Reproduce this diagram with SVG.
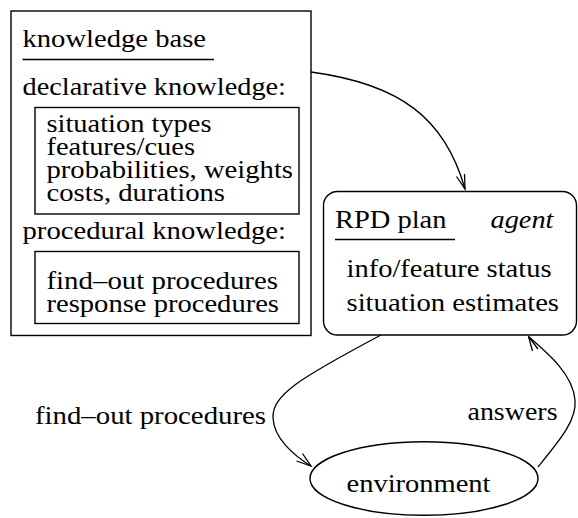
<svg xmlns="http://www.w3.org/2000/svg" width="578" height="518" viewBox="0 0 578 518">
  <rect width="578" height="518" fill="#fff"/>

  <!-- knowledge base -->
  <g id="knowledge-base">
    <g fill="#fff" stroke="#000" stroke-width="1.4">
      <rect x="11" y="11" width="300" height="324.5"/>
      <rect x="35" y="107.5" width="264" height="106.5"/>
      <rect x="35" y="251.5" width="264" height="72"/>
    </g>
    <line x1="22.5" y1="59.5" x2="214" y2="59.5" stroke="#000" stroke-width="1.3"/>
    <text font-family="Liberation Serif" font-size="25" x="22.5" y="46.5" textLength="183.5" lengthAdjust="spacingAndGlyphs">knowledge base</text>
    <text font-family="Liberation Serif" font-size="25" x="22.5" y="94.5" textLength="263.5" lengthAdjust="spacingAndGlyphs">declarative knowledge:</text>
    <text font-family="Liberation Serif" font-size="25" x="46.5" y="131.5" textLength="165" lengthAdjust="spacingAndGlyphs">situation types</text>
    <text font-family="Liberation Serif" font-size="25" x="46.5" y="154.5" textLength="148.5" lengthAdjust="spacingAndGlyphs">features/cues</text>
    <text font-family="Liberation Serif" font-size="25" x="46.5" y="177.5" textLength="246.5" lengthAdjust="spacingAndGlyphs">probabilities, weights</text>
    <text font-family="Liberation Serif" font-size="25" x="46.5" y="200.5" textLength="178.5" lengthAdjust="spacingAndGlyphs">costs, durations</text>
    <text font-family="Liberation Serif" font-size="25" x="22.5" y="239" textLength="263.5" lengthAdjust="spacingAndGlyphs">procedural knowledge:</text>
    <text font-family="Liberation Serif" font-size="25" x="46.5" y="288.5" textLength="231.5" lengthAdjust="spacingAndGlyphs">find–out procedures</text>
    <text font-family="Liberation Serif" font-size="25" x="46.5" y="311.5" textLength="232.5" lengthAdjust="spacingAndGlyphs">response procedures</text>
  </g>

  <!-- agent -->
  <g id="agent">
    <rect x="323.5" y="191.5" width="253" height="143.5" rx="14" ry="14" fill="#fff" stroke="#000" stroke-width="1.4"/>
    <line x1="335" y1="239.5" x2="455" y2="239.5" stroke="#000" stroke-width="1.3"/>
    <text font-family="Liberation Serif" font-size="25" x="335" y="227.5" textLength="111.5" lengthAdjust="spacingAndGlyphs">RPD plan</text>
    <text font-family="Liberation Serif" font-size="25" font-style="italic" x="490.5" y="227.5" textLength="63" lengthAdjust="spacingAndGlyphs">agent</text>
    <text font-family="Liberation Serif" font-size="25" x="346.5" y="276.5" textLength="205" lengthAdjust="spacingAndGlyphs">info/feature status</text>
    <text font-family="Liberation Serif" font-size="25" x="346.5" y="311" textLength="212.5" lengthAdjust="spacingAndGlyphs">situation estimates</text>
  </g>

  <!-- environment -->
  <g id="environment">
    <ellipse cx="424" cy="478.5" rx="114" ry="36.8" fill="#fff" stroke="#000" stroke-width="1.4"/>
    <text font-family="Liberation Serif" font-size="25" x="346.5" y="491.5" textLength="144" lengthAdjust="spacingAndGlyphs">environment</text>
  </g>

  <!-- connectors: curves with open V heads -->
  <g id="connectors" fill="none" stroke="#000" stroke-width="1.3">
    <path d="M311,72 C400,84 445,118 465,189"/>
    <path d="M456.5,176.5 L465,189 L464.5,174"/>
    <path d="M381,335 C300,378 272,395 273,418 C274,438 293,455 311,466"/>
    <path d="M296.5,461 L311,466 L302.5,453.5"/>
    <path d="M538,467 C560,440 577,420 575,400 C573,375 550,355 528.5,336.5"/>
    <path d="M538,349 L528.5,336.5 L532.5,351"/>
  </g>

  <!-- connector labels -->
  <g id="labels">
    <text font-family="Liberation Serif" font-size="25" x="35" y="423.5" textLength="231" lengthAdjust="spacingAndGlyphs">find–out procedures</text>
    <text font-family="Liberation Serif" font-size="25" x="467.5" y="420" textLength="90" lengthAdjust="spacingAndGlyphs">answers</text>
  </g>
</svg>
